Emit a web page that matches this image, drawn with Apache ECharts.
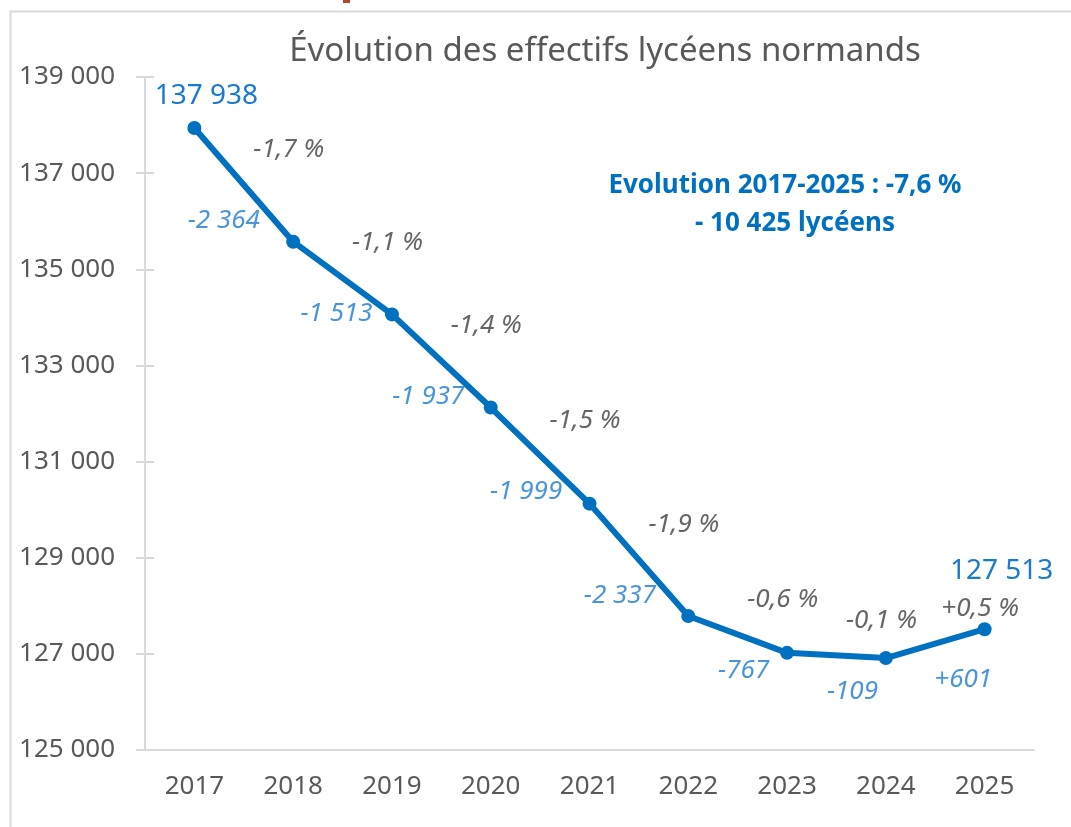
<!DOCTYPE html>
<html>
<head>
<meta charset="utf-8">
<script src="https://cdn.jsdelivr.net/npm/echarts@6/dist/echarts.min.js"></script>
<style>
    html, body { margin: 0; padding: 0; background: #fff; }
    #chart { width: 1071px; height: 827px; }
</style>
</head>
<body>
<div id="chart"></div>
<script>
    // données
    var years = ['2017', '2018', '2019', '2020', '2021', '2022', '2023', '2024', '2025'];
    var effectifs = [137938, 135574, 134061, 132124, 130125, 127788, 127021, 126912, 127513];
    var ecarts = ['-2 364', '-1 513', '-1 937', '-1 999', '-2 337', '-767', '-109', '+601'];
    var evolutions = ['-1,7 %', '-1,1 %', '-1,4 %', '-1,5 %', '-1,9 %', '-0,6 %', '-0,1 %', '+0,5 %'];
    var yMin = 125000, yMax = 139000, yStep = 2000;

    var blue = '#0070c0';
    var labelBlue = '#1a7ad0';
    var grey = '#595959';
    var axisGrey = '#d9d9d9';
    var font = 'Noto Sans';

    function fmt(n) {
        return String(n).replace(/\B(?=(\d{3})+(?!\d))/g, ' ');
    }

    // points au milieu de chaque segment, pour les étiquettes d'évolution
    var milieux = [];
    var milieuxEcarts = [];
    for (var i = 0; i < effectifs.length - 1; i++) {
        var m = [i + 0.5, (effectifs[i] + effectifs[i + 1]) / 2];
        milieux.push(m);
        // plus la pente est forte, plus l'étiquette s'écarte vers la gauche
        var baisse = effectifs[i] - effectifs[i + 1];
        milieuxEcarts.push({ value: m, label: { offset: [Math.round(18 - baisse * 0.016), 36] } });
    }

    var first = effectifs[0], last = effectifs[effectifs.length - 1];
    var totalPct = ((last - first) / first * 100).toFixed(1).replace('.', ',');
    var totalDiff = fmt(first - last);

    var lineData = effectifs.map(function (v, i) {
        if (i === 0) {
            return { value: v, label: { show: true, offset: [12, -6] } };
        }
        if (i === effectifs.length - 1) {
            return { value: v, label: { show: true, offset: [17, -32] } };
        }
        return v;
    });

    var chart = echarts.init(document.getElementById('chart'));
    chart.setOption({
        animation: false,
        grid: { left: 145, right: 37, top: 77, bottom: 77 },
        xAxis: [
            {
                type: 'category',
                data: years,
                boundaryGap: true,
                axisLine: { lineStyle: { color: axisGrey, width: 2 } },
                axisTick: { show: false },
                axisLabel: { color: grey, fontSize: 26, fontFamily: font, margin: 24 }
            },
            {
                type: 'value',
                min: -0.5,
                max: years.length - 0.5,
                show: false
            }
        ],
        yAxis: [
            {
                type: 'value',
                min: yMin,
                max: yMax,
                interval: yStep,
                splitLine: { show: false },
                axisLine: { show: true, onZero: false, lineStyle: { color: axisGrey, width: 2 } },
                axisTick: { show: true, length: 9, lineStyle: { color: axisGrey, width: 2 } },
                axisLabel: {
                    color: grey, fontSize: 26, fontFamily: font, margin: 30,
                    formatter: function (v) { return fmt(v); }
                }
            },
            {
                // graduations côté intérieur, pour qu'elles traversent l'axe
                type: 'value',
                position: 'left',
                min: yMin,
                max: yMax,
                interval: yStep,
                splitLine: { show: false },
                axisLine: { show: false, onZero: false },
                axisTick: { show: true, inside: true, length: 9, lineStyle: { color: axisGrey, width: 2 } },
                axisLabel: { show: false }
            }
        ],
        series: [
            {
                type: 'line',
                data: lineData,
                symbol: 'circle',
                symbolSize: 14,
                lineStyle: { color: blue, width: 6 },
                itemStyle: { color: blue },
                label: {
                    show: false,
                    position: 'top',
                    color: labelBlue,
                    fontSize: 28,
                    fontFamily: font,
                    formatter: function (p) { return fmt(p.value); }
                },
                z: 3
            },
            {
                type: 'scatter',
                xAxisIndex: 1,
                data: milieuxEcarts,
                symbolSize: 1,
                itemStyle: { color: 'rgba(0,0,0,0)' },
                label: {
                    show: true,
                    position: 'inside',
                    color: labelBlue,
                    fontSize: 26,
                    fontStyle: 'italic',
                    fontFamily: font,
                    formatter: function (p) { return ecarts[p.dataIndex]; }
                },
                silent: true
            },
            {
                type: 'scatter',
                xAxisIndex: 1,
                data: milieux,
                symbolSize: 1,
                itemStyle: { color: 'rgba(0,0,0,0)' },
                label: {
                    show: true,
                    position: 'inside',
                    offset: [45, -35],
                    color: '#404040',
                    fontSize: 26,
                    fontStyle: 'italic',
                    fontFamily: font,
                    formatter: function (p) { return evolutions[p.dataIndex]; }
                },
                silent: true
            }
        ],
        graphic: [
            {
                type: 'rect',
                left: 8, top: 9,
                shape: { width: 1100, height: 850 },
                style: { fill: 'none', stroke: axisGrey, lineWidth: 2 },
                silent: true
            },
            {
                type: 'rect',
                left: 343, top: 0,
                shape: { width: 7, height: 3 },
                style: { fill: '#b5462b' },
                silent: true
            },
            {
                type: 'text',
                x: 605, y: 52,
                style: {
                    text: 'Évolution des effectifs lycéens normands',
                    fill: grey, fontSize: 33, fontFamily: font,
                    textAlign: 'center', textVerticalAlign: 'middle'
                }
            },
            {
                type: 'text',
                x: 785, y: 186,
                style: {
                    text: 'Evolution 2017-2025 : ' + totalPct + ' %',
                    fill: blue, fontSize: 26, fontWeight: 'bold', fontFamily: font,
                    textAlign: 'center', textVerticalAlign: 'middle'
                }
            },
            {
                type: 'text',
                x: 795, y: 224,
                style: {
                    text: '- ' + totalDiff + ' lycéens',
                    fill: blue, fontSize: 26, fontWeight: 'bold', fontFamily: font,
                    textAlign: 'center', textVerticalAlign: 'middle'
                }
            }
        ]
    });
</script>
</body>
</html>
